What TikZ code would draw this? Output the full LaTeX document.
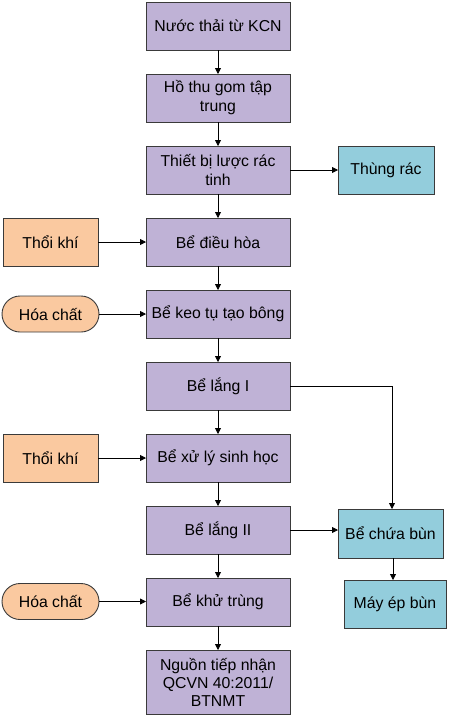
\documentclass[tikz,border=0pt]{standalone}
\usepackage{fontspec}
\setmainfont{Liberation Sans}
\usetikzlibrary{arrows.meta}
\definecolor{purp}{HTML}{BFB2D6}
\definecolor{oran}{HTML}{FAC9A0}
\definecolor{cyanb}{HTML}{93CDDC}
\definecolor{edge}{HTML}{3A3A3A}
\begin{document}
\begin{tikzpicture}[x=1pt,y=-1pt,
  base/.style={draw=edge,line width=0.9pt,inner sep=0pt,outer sep=0pt,align=center,
    font=\fontsize{15.8}{19}\selectfont},
  proc/.style={base,fill=purp,minimum width=144pt,minimum height=48pt},
  side/.style={base,fill=cyanb},
  air/.style={base,fill=oran,minimum width=95pt,minimum height=48pt},
  chem/.style={base,fill=oran,minimum width=97pt,minimum height=36pt,rounded corners=18pt},
  conn/.style={draw=black,line width=0.8pt,-{Triangle[length=6pt,width=6pt]}}]
\useasboundingbox (0,0) rectangle (448,724);
\node[proc] (b1) at (218,26) {Nước thải từ KCN};
\node[proc] (b2) at (218,98) {Hồ thu gom tập\\trung};
\node[proc] (b3) at (218,170) {Thiết bị lược rác\\tinh};
\node[proc] (b4) at (218,242) {Bể điều hòa};
\node[proc] (b5) at (218,314) {Bể keo tụ tạo bông};
\node[proc] (b6) at (218,386) {Bể lắng I};
\node[proc] (b7) at (218,458) {Bể xử lý sinh học};
\node[proc] (b8) at (218,530) {Bể lắng II};
\node[proc] (b9) at (218,602) {Bể khử trùng};
\node[proc,minimum height=64pt,font=\fontsize{15.8}{18}\selectfont] (b10) at (218,682) {Nguồn tiếp nhận\\QCVN 40:2011/\\BTNMT};
\node[side,minimum width=96pt,minimum height=48pt] (rac) at (386,170) {Thùng rác};
\node[side,minimum width=105pt,minimum height=49pt] (chua) at (390.5,533.5) {Bể chứa bùn};
\node[side,minimum width=102pt,minimum height=48pt] (may) at (395,604) {Máy ép bùn};
\node[air] (k1) at (50.5,242) {Thổi khí};
\node[chem] (h1) at (50.5,314) {Hóa chất};
\node[air] (k2) at (50.5,458) {Thổi khí};
\node[chem] (h2) at (50.5,601.5) {Hóa chất};
\foreach \a/\b in {b1/b2,b2/b3,b3/b4,b4/b5,b5/b6,b6/b7,b7/b8,b8/b9,b9/b10}
  \draw[conn] (\a) -- (\b);
\draw[conn] (b3.east) -- (b3.east -| rac.west);
\draw[conn] (k1) -- (b4);
\draw[conn] (h1) -- (b5);
\draw[conn] (k2) -- (b7);
\draw[conn] (h2) -- (h2 -| b9.west);
\coordinate (cn) at ([xshift=1.5pt]chua.north);
\draw[conn] (b6.east) -| (cn);
\draw[conn] (b8.east) -- (b8.east -| chua.west);
\coordinate (ms) at ([xshift=2.5pt]chua.south);
\draw[conn] (ms) -- (ms |- may.north);
\end{tikzpicture}
\end{document}
